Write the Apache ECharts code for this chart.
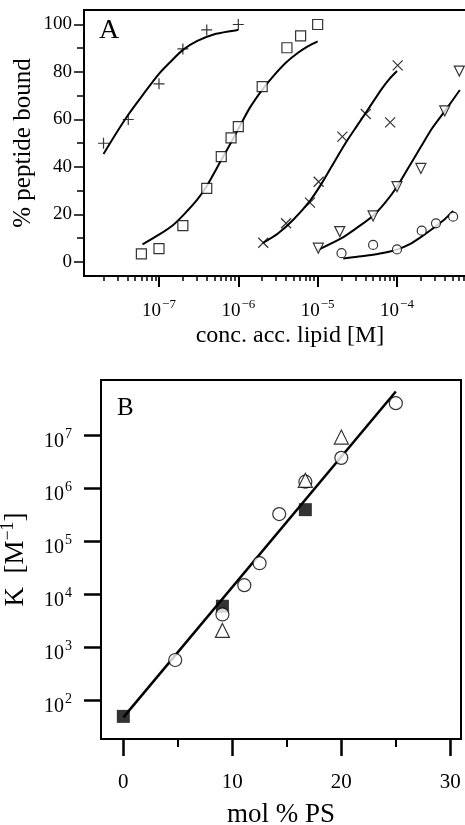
<!DOCTYPE html>
<html>
<head>
<meta charset="utf-8">
<script src="https://cdn.jsdelivr.net/npm/echarts@6/dist/echarts.min.js"></script>
<style>
  html, body { margin: 0; padding: 0; background: #fff; }
  #chart { width: 465px; height: 825px; }
</style>
</head>
<body>
<div id="chart"></div>
<script>
// ---- panel A: % peptide bound vs lipid concentration [M] ----
const plusConc = [2e-8, 4.1e-8, 1e-7, 2e-7, 4e-7, 1e-6]
const plusBound = [50, 60, 75, 89.7, 97.7, 100]
const squareConc = [6e-8, 1e-7, 2e-7, 4e-7, 6.1e-7, 8.1e-7, 1e-6, 2e-6, 4.1e-6, 6.1e-6, 1e-5]
const squareBound = [3.4, 5.6, 15.3, 31, 44.4, 52.3, 57, 73.8, 90.2, 95.2, 100]
const crossConc = [2.06e-6, 4e-6, 8e-6, 1.03e-5, 2.05e-5, 4.04e-5, 8.2e-5, 1.02e-4]
const crossBound = [8.1, 16.3, 25, 33.8, 52.8, 62.3, 58.8, 82.8]
const triConc = [1.02e-5, 1.9e-5, 5e-5, 1e-4, 2e-4, 4e-4, 6.1e-4]
const triBound = [5.8, 12.8, 19.4, 31.7, 39.4, 63.6, 80.4]
const circConc = [2e-5, 5e-5, 1e-4, 2.05e-4, 3.1e-4, 5.1e-4]
const circBound = [3.7, 7.2, 5.3, 13.2, 16.3, 19.1]

// fitted curves
const plusFitConc = [2e-8, 2.8e-8, 4.1e-8, 6.3e-8, 1e-7, 1.4e-7, 2e-7, 3e-7, 4.9e-7, 1e-6]
const plusFitBound = [45.5, 53.5, 62, 70.5, 79.2, 84.3, 89.3, 93, 95.8, 97.7]
const squareFitConc = [6.2e-8, 1e-7, 1.5e-7, 2e-7, 3e-7, 4e-7, 6e-7, 8e-7, 1e-6, 1.4e-6, 2e-6, 2.8e-6, 4e-6, 5.6e-6, 7.5e-6, 1e-5]
const squareFitBound = [7.4, 11.5, 15.5, 19.5, 26, 32, 42.5, 50, 56, 65, 72.5, 78.5, 84, 88, 90.8, 92.9]
const crossFitConc = [2.04e-6, 3.16e-6, 5e-6, 7.9e-6, 1.12e-5, 1.58e-5, 2.24e-5, 3.16e-5, 4.47e-5, 6.3e-5, 8e-5, 1e-4]
const crossFitBound = [8, 12, 18, 25.5, 33, 41.5, 50, 57.5, 65, 72.5, 77, 80.4]
const triFitConc = [1e-5, 2e-5, 3.16e-5, 5e-5, 7.1e-5, 1e-4, 1.41e-4, 2e-4, 2.8e-4, 4e-4, 6.2e-4]
const triFitBound = [5, 10, 14.5, 19.5, 25, 31.7, 40, 48.5, 56.5, 63.5, 72.4]
const circFitConc = [2.1e-5, 3.16e-5, 5e-5, 7.9e-5, 1e-4, 1.41e-4, 2e-4, 2.8e-4, 4e-4, 5.1e-4]
const circFitBound = [1.5, 2.2, 3.0, 4.3, 5.2, 7.3, 10.5, 14, 18, 21.5]

const aXMin = 1.135e-8
const aXMax = 1.77e-3
const aXTickExp = [-7, -6, -5, -4]
const aYTicks = [0, 20, 40, 60, 80, 100]
const aYMinorTicks = [10, 30, 50, 70, 90]

// ---- panel B: K [M^-1] vs mol % PS ----
const sqPS = [0, 9.09, 16.7]
const sqK = [50, 6e3, 4e5]
const circPS = [4.76, 9.09, 11.1, 12.5, 14.3, 16.7, 20, 25]
const circK = [580, 4.2e3, 1.5e4, 3.9e4, 3.3e5, 1.35e6, 3.8e6, 4.1e7]
const triPS = [9.09, 16.7, 20]
const triK = [2.1e3, 1.43e6, 9.4e6]
const fitPS = [0, 25]
const fitK = [48, 6.8e7]

const bXTicks = [0, 10, 20, 30]
const bXMinorTicks = [5, 15, 25]
const bYTickExp = [2, 3, 4, 5, 6, 7]

const serif = '"Liberation Serif", "DejaVu Serif", serif'
const lg = Math.log10
const logX = (xs, ys) => xs.map((x, i) => [lg(x), ys[i]])
const logY = (xs, ys) => xs.map((x, i) => [x, lg(ys[i])])

const aXMinor = []
for (let e = -8; e <= -3; e++) {
  for (let k = 2; k <= 9; k++) {
    const v = lg(k * Math.pow(10, e))
    if (v > lg(aXMin) && v < lg(aXMax)) aXMinor.push(v)
  }
}

const supFmt = (v) => {
  const n = Math.round(v)
  return '{b|10}{s|' + (n < 0 ? '\u2212' + -n : n) + '}'
}

const myChart = echarts.init(document.getElementById('chart'))

const curve = (data) => ({
  type: 'line',
  xAxisIndex: 0,
  yAxisIndex: 0,
  data: data,
  showSymbol: false,
  smooth: 0.25,
  lineStyle: { color: '#000', width: 2 },
  z: 2
})

const dots = (data, symbol, size, xi, yi, extra) => Object.assign({
  type: 'scatter',
  xAxisIndex: xi,
  yAxisIndex: yi,
  data: data,
  symbol: symbol,
  symbolSize: size,
  itemStyle: { color: '#fff', borderColor: '#000', borderWidth: 1.2 },
  z: 3
}, extra || {})

const tickStyle = (w) => ({ color: '#000', width: w })

const option = {
  animation: false,
  backgroundColor: '#fff',
  textStyle: { fontFamily: serif, color: '#000' },
  title: [
    { text: 'A', left: 99, top: 17, padding: 0, textStyle: { fontFamily: serif, fontSize: 28, fontWeight: 'normal', color: '#000' } },
    { text: 'B', left: 117, top: 396, padding: 0, textStyle: { fontFamily: serif, fontSize: 25, fontWeight: 'normal', color: '#000' } }
  ],
  grid: [
    { left: 84, top: 10, right: -31, bottom: 549, show: true, borderColor: '#000', borderWidth: 2, outerBoundsMode: 'none' },
    { left: 101, top: 380, right: 4, bottom: 86, show: true, borderColor: '#000', borderWidth: 2, outerBoundsMode: 'none' }
  ],
  xAxis: [
    {
      gridIndex: 0,
      type: 'value',
      position: 'bottom',
      min: lg(aXMin),
      max: lg(aXMax),
      axisLine: { onZero: false, lineStyle: tickStyle(2) },
      axisTick: { customValues: aXTickExp, length: 11, lineStyle: tickStyle(2) },
      axisLabel: {
        customValues: aXTickExp,
        formatter: supFmt,
        margin: 22,
        rich: {
          b: { fontFamily: serif, fontSize: 19, color: '#000', verticalAlign: 'middle' },
          s: { fontFamily: serif, fontSize: 13, color: '#000', verticalAlign: 'middle', padding: [0, 0, 14, 1] }
        }
      },
      splitLine: { show: false },
      name: 'conc. acc. lipid [M]',
      nameLocation: 'middle',
      nameGap: 48,
      nameMoveOverlap: false,
      nameTextStyle: { fontFamily: serif, fontSize: 24, color: '#000' }
    },
    {
      gridIndex: 0,
      type: 'value',
      position: 'bottom',
      min: lg(aXMin),
      max: lg(aXMax),
      axisLine: { show: false, onZero: false },
      axisTick: { customValues: aXMinor, length: 5, lineStyle: tickStyle(1.5) },
      axisLabel: { show: false },
      splitLine: { show: false }
    },
    {
      gridIndex: 1,
      type: 'value',
      position: 'bottom',
      min: -2.05,
      max: 30.98,
      axisLine: { onZero: false, lineStyle: tickStyle(2) },
      axisTick: { customValues: bXTicks, length: 17, lineStyle: tickStyle(2.5) },
      axisLabel: { customValues: bXTicks, margin: 33, fontFamily: serif, fontSize: 21, color: '#000' },
      splitLine: { show: false },
      name: 'mol % PS',
      nameLocation: 'middle',
      nameGap: 62,
      nameMoveOverlap: false,
      nameTextStyle: { fontFamily: serif, fontSize: 27, color: '#000' }
    },
    {
      gridIndex: 1,
      type: 'value',
      position: 'bottom',
      min: -2.05,
      max: 30.98,
      axisLine: { show: false, onZero: false },
      axisTick: { customValues: bXMinorTicks, length: 8, lineStyle: tickStyle(2) },
      axisLabel: { show: false },
      splitLine: { show: false }
    }
  ],
  yAxis: [
    {
      gridIndex: 0,
      type: 'value',
      position: 'left',
      min: -5.9,
      max: 106.1,
      axisLine: { show: true, onZero: false, lineStyle: tickStyle(2) },
      axisTick: { show: true, customValues: aYTicks, length: 10, lineStyle: tickStyle(1.5) },
      axisLabel: { customValues: aYTicks, margin: 12, fontFamily: serif, fontSize: 19, color: '#000' },
      splitLine: { show: false },
      name: '% peptide bound',
      nameLocation: 'middle',
      nameGap: 48,
      nameMoveOverlap: false,
      nameTextStyle: { fontFamily: serif, fontSize: 25, color: '#000' }
    },
    {
      gridIndex: 0,
      type: 'value',
      position: 'left',
      min: -5.9,
      max: 106.1,
      axisLine: { show: false, onZero: false },
      axisTick: { show: true, customValues: aYMinorTicks, length: 7, lineStyle: tickStyle(1.5) },
      axisLabel: { show: false },
      splitLine: { show: false }
    },
    {
      gridIndex: 1,
      type: 'value',
      position: 'left',
      min: 1.272,
      max: 8.05,
      axisLine: { show: true, onZero: false, lineStyle: tickStyle(2) },
      axisTick: { show: true, customValues: bYTickExp, length: 17, lineStyle: tickStyle(2.5) },
      axisLabel: {
        customValues: bYTickExp,
        formatter: supFmt,
        margin: 29,
        rich: {
          b: { fontFamily: serif, fontSize: 20, color: '#000', verticalAlign: 'middle', padding: [12, 0, 0, 0] },
          s: { fontFamily: serif, fontSize: 14, color: '#000', verticalAlign: 'middle', padding: [0, 0, 2, 1] }
        }
      },
      splitLine: { show: false },
      name: 'K  [M{s|\u22121}]',
      nameLocation: 'middle',
      nameGap: 68,
      nameMoveOverlap: false,
      nameTextStyle: {
        fontFamily: serif,
        fontSize: 27,
        color: '#000',
        rich: {
          s: { fontFamily: serif, fontSize: 18, color: '#000', padding: [0, 0, 16, 0] }
        }
      }
    }
  ],
  series: [
    curve(logX(plusFitConc, plusFitBound)),
    curve(logX(squareFitConc, squareFitBound)),
    curve(logX(crossFitConc, crossFitBound)),
    curve(logX(triFitConc, triFitBound)),
    curve(logX(circFitConc, circFitBound)),
    dots(logX(plusConc, plusBound), 'path://M5,0L5,10M0,5L10,5', 11, 0, 0, {
      itemStyle: { color: '#000', borderColor: '#000', borderWidth: 1.2 }
    }),
    dots(logX(squareConc, squareBound), 'rect', 10, 0, 0),
    dots(logX(crossConc, crossBound), 'path://M0,0L10,10M10,0L0,10', 10, 0, 0, {
      itemStyle: { color: '#000', borderColor: '#000', borderWidth: 1.2 }
    }),
    dots(logX(triConc, triBound), 'triangle', 10, 0, 0, { symbolRotate: 180 }),
    dots(logX(circConc, circBound), 'circle', 9, 0, 0),
    {
      type: 'line',
      xAxisIndex: 2,
      yAxisIndex: 2,
      data: logY(fitPS, fitK),
      showSymbol: false,
      lineStyle: { color: '#000', width: 2.5 },
      z: 2
    },
    dots(logY(sqPS, sqK), 'rect', 13, 2, 2, {
      itemStyle: { color: '#000', borderColor: '#000', borderWidth: 0 }
    }),
    dots(logY(circPS, circK), 'circle', 13, 2, 2, { z: 4 }),
    dots(logY(triPS, triK), 'triangle', 14, 2, 2, { z: 5 })
  ]
}

myChart.setOption(option)
</script>
</body>
</html>
